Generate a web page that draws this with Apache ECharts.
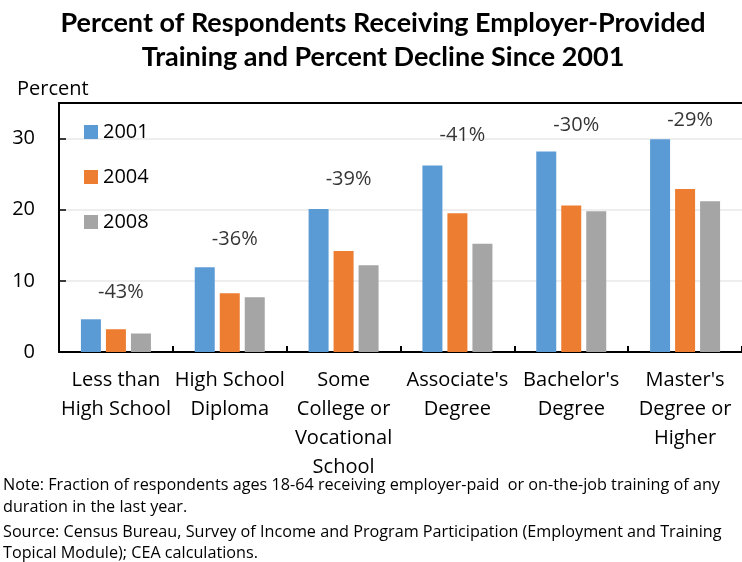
<!DOCTYPE html>
<html>
<head>
<meta charset="utf-8">
<script src="https://cdn.jsdelivr.net/npm/echarts@6/dist/echarts.min.js"></script>
<style>html,body{margin:0;padding:0;background:#fff}#c{width:742px;height:562px}</style>
</head>
<body>
<div id="c"></div>
<script>
const categories = ["Less than\nHigh School", "High School\nDiploma", "Some\nCollege or\nVocational\nSchool", "Associate's\nDegree", "Bachelor's\nDegree", "Master's\nDegree or\nHigher"];
const seriesNames = ["2001", "2004", "2008"];
const values2001 = [4.6, 11.9, 20.1, 26.2, 28.2, 29.9];
const values2004 = [3.2, 8.25, 14.2, 19.5, 20.6, 22.9];
const values2008 = [2.6, 7.7, 12.2, 15.2, 19.8, 21.2];
const declineLabels = ["-43%", "-36%", "-39%", "-41%", "-30%", "-29%"];
const declineLabelLevels = [8.4, 15.8, 24.3, 30.5, 31.9, 32.6];
const yTicks = [0, 10, 20, 30];
const titleLines = ["Percent of Respondents Receiving Employer-Provided", "Training and Percent Decline Since 2001"];
const noteLines = [
  "Note: Fraction of respondents ages 18-64 receiving employer-paid  or on-the-job training of any",
  "duration in the last year.",
  "Source: Census Bureau, Survey of Income and Program Participation (Employment and Training",
  "Topical Module); CEA calculations."
];

const FONT = '"Open Sans", Lato, sans-serif';
const TFONT = 'Lato, "Open Sans", sans-serif';
const colors = ["#5B9BD5", "#ED7D31", "#A5A5A5"];
const chart = echarts.init(document.getElementById('c'));
const allValues = [values2001, values2004, values2008];

const noteY = [485, 507, 532, 553];
const option = {
  animation: false,
  color: colors,
  textStyle: { fontFamily: FONT },
  grid: { left: 59, right: 0, top: 103, bottom: 210, containLabel: false },
  legend: {
    data: seriesNames,
    orient: 'vertical',
    left: 84, top: 122, padding: 0,
    itemWidth: 14, itemHeight: 14, itemGap: 25,
    icon: 'rect',
    textStyle: { fontSize: 20, color: '#000', fontFamily: FONT, lineHeight: 20 }
  },
  xAxis: [{
    type: 'category',
    data: categories,
    axisLine: { lineStyle: { color: '#000', width: 2 } },
    axisTick: { show: true, inside: true, length: 6, lineStyle: { color: '#000', width: 2 } },
    axisLabel: { color: '#000', fontSize: 20, lineHeight: 29, margin: 14, interval: 0, fontFamily: FONT }
  }, {
    type: 'category',
    position: 'top',
    data: categories,
    axisLine: { lineStyle: { color: '#000', width: 2 } },
    axisTick: { show: false },
    axisLabel: { show: false }
  }],
  yAxis: {
    type: 'value', min: 0, max: 35, interval: 10,
    axisLine: { show: true, lineStyle: { color: '#000', width: 2 } },
    axisTick: { show: true, inside: true, length: 7, lineStyle: { color: '#000', width: 1.5 } },
    splitLine: { lineStyle: { color: '#e8e8e8', width: 1.5 } },
    axisLabel: {
      color: '#000', fontSize: 20, margin: 24, fontFamily: FONT,
      formatter: v => yTicks.indexOf(v) >= 0 ? String(v) : ''
    }
  },
  series: seriesNames.map((n, i) => ({
    name: n, type: 'bar', data: allValues[i], barWidth: 20, barGap: '25%',
    itemStyle: { color: colors[i] }
  })).concat([{
    name: 'decline', type: 'scatter', symbolSize: 0, z: 5,
    data: declineLabelLevels,
    label: {
      show: true, position: 'inside', offset: [5, 0], fontSize: 20, color: '#000', fontFamily: FONT,
      formatter: p => declineLabels[p.dataIndex]
    }
  }]),
  graphic: [
    { type: 'text', x: 383, y: 23, style: { text: titleLines[0], fontSize: 27, fontWeight: 'bold', fontFamily: TFONT, fill: '#000', textAlign: 'center', textVerticalAlign: 'middle' } },
    { type: 'text', x: 383, y: 57, style: { text: titleLines[1], fontSize: 27, fontWeight: 'bold', fontFamily: TFONT, fill: '#000', textAlign: 'center', textVerticalAlign: 'middle' } },
    { type: 'text', x: 17, y: 89, style: { text: 'Percent', fontSize: 20, fontFamily: FONT, fill: '#000', textAlign: 'left', textVerticalAlign: 'middle' } }
  ].concat(noteLines.map((t, i) => ({
    type: 'text', x: 3, y: noteY[i], style: { text: t, fontSize: 16.2, fontFamily: FONT, fill: '#000', textAlign: 'left', textVerticalAlign: 'middle' }
  })))
};
chart.setOption(option);
</script>
</body>
</html>
